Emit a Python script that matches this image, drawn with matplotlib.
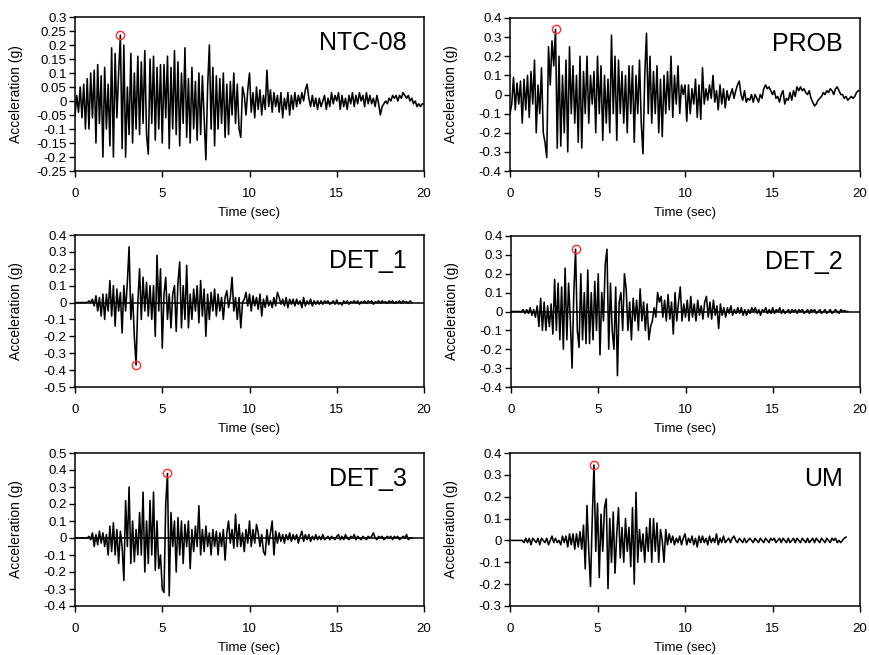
import numpy as np
import matplotlib
matplotlib.use("Agg")
import matplotlib.pyplot as plt

plt.rcParams['font.family'] = ['Liberation Sans', 'DejaVu Sans']

# -----------------------------
# Time axis (0.1 s samples)
# -----------------------------
DT = 0.1

# -----------------------------
# Accelerograms (g)
# -----------------------------
ntc08 = [
    -0.05, 0.02, -0.04, 0.05, -0.06, 0.06, -0.1, 0.08, -0.1, 0.1,
    -0.06, 0.11, -0.15, 0.13, -0.08, 0.09, -0.2, 0.12, -0.1, 0.06,
    -0.16, 0.19, -0.2, 0.17, -0.06, 0.1, 0.235, -0.17, 0.2, -0.2,
    0.05, -0.12, 0.17, -0.15, 0.1, -0.1, 0.16, -0.12, 0.14, -0.08,
    0.18, -0.12, -0.19, 0.15, -0.08, 0.16, -0.14, 0.12, -0.1, 0.13,
    -0.15, 0.13, -0.06, 0.16, -0.17, 0.12, -0.1, 0.18, -0.12, 0.14,
    -0.16, 0.1, -0.08, 0.19, -0.13, 0.08, -0.15, 0.12, -0.1, 0.07,
    -0.14, 0.1, -0.12, 0.09, -0.06, -0.21, 0.05, 0.2, -0.1, 0.12,
    -0.16, 0.09, -0.1, 0.08, -0.08, 0.1, -0.13, 0.06, -0.12, 0.07,
    -0.05, 0.1, -0.08, 0.06, -0.1, -0.13, 0.05, 0.02, -0.05, 0.04,
    0.1, -0.04, 0.03, -0.06, 0.05, -0.03, 0.04, -0.05, 0.02, -0.03,
    0.11, -0.02, 0.04, -0.04, 0.03, -0.02, 0.02, -0.04, 0.03, -0.06,
    0.01, -0.03, 0.03, -0.05, 0.02, -0.03, 0.03, -0.02, 0.02, -0.01,
    0.03, 0.0, 0.04, 0.06, 0.01, -0.02, 0.02, -0.02, 0.01, -0.03,
    0.01, -0.02, 0.0, 0.02, -0.03, 0.01, -0.02, 0.03, -0.01, 0.02,
    0.0, 0.03, -0.03, 0.02, -0.02, 0.01, -0.03, 0.02, -0.01, 0.03,
    -0.02, 0.02, -0.01, 0.03, 0.0, 0.02, -0.02, 0.03, -0.01, 0.02,
    -0.01, 0.01, -0.02, 0.02, -0.01, -0.05, -0.02, -0.01, 0.0, -0.01,
    0.01, 0.0, 0.02, 0.01, 0.02, 0.0, 0.02, 0.01, 0.03, 0.02,
    0.01, 0.02, 0.0, 0.01, -0.01, 0.0, -0.02, -0.01, -0.02, -0.01,
    -0.01,
]

prob = [
    -0.1, -0.05, 0.09, -0.08, 0.06, -0.05, 0.07, -0.15, 0.08, -0.08,
    0.1, -0.12, 0.12, -0.05, 0.18, -0.2, 0.05, -0.1, 0.14, -0.2,
    -0.25, -0.33, 0.25, 0.05, 0.28, 0.15, 0.34, -0.28, 0.2, -0.27,
    0.1, -0.2, 0.18, -0.3, 0.25, -0.1, 0.15, -0.15, 0.1, -0.25,
    0.2, -0.28, 0.12, -0.1, 0.2, -0.15, 0.1, -0.05, 0.12, -0.2,
    0.2, -0.1, 0.15, -0.24, 0.1, -0.15, 0.08, -0.2, 0.31, -0.1,
    0.2, -0.24, 0.18, -0.1, 0.12, -0.15, 0.1, -0.2, 0.15, -0.1,
    0.15, -0.25, 0.1, -0.1, 0.18, -0.15, -0.31, 0.1, 0.32, -0.1,
    0.2, -0.15, 0.12, -0.1, 0.15, -0.2, 0.08, -0.22, 0.1, -0.1,
    0.12, -0.08, 0.2, -0.12, 0.1, -0.05, 0.15, -0.1, 0.05, 0.0,
    0.05, -0.14, 0.05, -0.1, 0.03, -0.05, 0.08, -0.12, 0.05, -0.13,
    0.14, -0.05, 0.03, -0.03, 0.05, -0.02, 0.1, -0.04, 0.02, -0.08,
    0.05, -0.05, 0.03, -0.07, 0.02, -0.03, 0.0, 0.03, -0.02, 0.02,
    0.05, 0.07, 0.0, -0.03, 0.02, -0.04, -0.02, -0.03, 0.0, -0.04,
    0.0, -0.02, -0.04, 0.0, -0.02, 0.03, 0.05, 0.03, 0.04, 0.02,
    0.0, 0.02, -0.02, -0.01, -0.04, 0.0, 0.02, -0.05, -0.02, -0.03,
    0.01, -0.03, 0.02, -0.01, 0.04, 0.02, 0.04, 0.02, 0.03, 0.01,
    0.0, 0.02, -0.02, -0.04, -0.06, -0.05, -0.03, -0.02, -0.01, 0.01,
    0.0, 0.02, 0.01, 0.03, 0.02, 0.0, 0.03, 0.04, 0.02, 0.0,
    0.0, -0.02, -0.01, -0.03, -0.02, -0.01, -0.02, -0.01, 0.01, 0.02,
    0.02,
]

det1 = [
    0, 0, 0, 0, 0, 0, 0, 0, 0.01, 0.0,
    0.02, -0.02, 0.04, -0.05, 0.03, -0.08, 0.05, -0.1, 0.05, -0.05,
    0.13, -0.08, 0.1, -0.14, 0.08, -0.05, 0.06, -0.18, 0.1, -0.05,
    0.12, 0.33, -0.1, 0.05, -0.2, -0.37, 0.0, 0.2, -0.1, 0.15,
    -0.05, 0.12, -0.08, 0.1, -0.1, 0.1, -0.2, 0.28, -0.05, 0.2,
    -0.27, 0.05, 0.15, -0.1, 0.05, -0.15, 0.05, 0.1, -0.17, 0.12,
    0.24, -0.15, 0.1, -0.1, 0.22, -0.15, 0.05, -0.1, 0.08, -0.05,
    0.1, -0.12, 0.13, -0.08, 0.08, -0.2, 0.05, -0.1, 0.06, -0.05,
    0.08, -0.08, 0.05, -0.05, 0.03, -0.1, 0.03, 0.07, -0.03, 0.03,
    0.15, -0.05, 0.03, -0.1, 0.03, -0.15, 0.0, 0.02, 0.06, -0.02,
    0.05, -0.05, 0.04, -0.02, 0.03, -0.04, 0.05, -0.08, 0.02, -0.03,
    0.04, -0.02, 0.01, -0.03, 0.03, -0.02, 0.06, 0.03, -0.01, 0.02,
    -0.02, 0.03, -0.03, 0.02, -0.01, 0.02, -0.02, 0.02, -0.01, 0.01,
    -0.03, 0.03, -0.02, 0.01, -0.01, 0.02, -0.02, 0.01, -0.01, 0.01,
    -0.01, 0.01, -0.01, 0.01, 0.0, 0.01, -0.01, 0.0, 0.01, -0.01,
    0.015, -0.01, 0.0, -0.015, 0.01, -0.005, 0.01, -0.01, 0.005, 0.0,
    0.01, -0.005, 0.01, -0.01, 0.005, 0.0, 0.01, -0.005, 0.01, 0.0,
    0.01, -0.01, 0.005, 0.0, 0.01, -0.005, 0.01, 0.0, 0.005, -0.005,
    0.01, 0.0, 0.01, -0.005, 0.005, 0.0, 0.01, -0.005, 0.01, 0.0,
    0.005, -0.005, 0.01, 0.0,
]

det2 = [
    0, 0, 0, 0, 0, 0, 0, 0.01, -0.01, 0.01,
    -0.01, 0.02, -0.02, 0.01, -0.03, 0.03, -0.08, 0.07, -0.1, 0.05,
    -0.1, 0.03, -0.08, 0.04, -0.12, 0.17, -0.1, 0.15, -0.15, 0.13,
    -0.2, 0.23, -0.15, 0.15, -0.05, -0.3, 0.1, 0.33, -0.1, -0.19,
    0.2, -0.15, 0.1, -0.17, 0.22, -0.17, 0.1, -0.15, 0.16, -0.1,
    0.2, -0.23, 0.1, -0.05, 0.25, 0.33, -0.2, 0.15, -0.1, -0.2,
    0.13, -0.34, 0.05, 0.1, -0.1, 0.2, 0.12, -0.1, 0.05, -0.15,
    0.07, -0.05, 0.06, -0.1, 0.12, -0.05, 0.05, -0.1, 0.04, -0.15,
    -0.08, -0.05, 0.02, -0.03, 0.1, 0.05, 0.08, -0.03, 0.06, -0.05,
    0.09, -0.04, 0.05, -0.12, 0.1, -0.05, 0.05, 0.13, -0.05, 0.04,
    -0.03, 0.06, -0.05, 0.08, -0.03, 0.04, -0.05, 0.06, -0.02, 0.03,
    -0.04, 0.05, 0.08, -0.03, 0.05, -0.04, 0.06, -0.02, 0.03, -0.09,
    0.04, -0.02, 0.02, -0.03, 0.02, -0.01, 0.03, -0.02, 0.01, -0.01,
    0.02, -0.01, 0.02, -0.02, 0.01, -0.02, 0.01, -0.01, 0.02, 0.0,
    0.02, -0.01, 0.01, -0.02, 0.01, 0.0, 0.02, -0.01, 0.01, -0.01,
    0.02, -0.01, 0.01, 0.0, 0.02, -0.01, 0.01, -0.01, 0.0, 0.01,
    -0.01, 0.01, 0.0, 0.01, -0.01, 0.01, 0.0, 0.01, -0.01, 0.0,
    0.01, -0.01, 0.01, 0.0, 0.01, -0.01, 0.0, 0.01, -0.01, 0.0,
    0.01, -0.01, 0.0, 0.01, -0.01, 0.0, 0.01, 0.0, -0.01, 0.01,
    0.0, 0.005, 0.0, 0.0,
]

det3 = [
    0, 0, 0, 0, 0, 0, 0, 0, 0.01, -0.01,
    0.03, -0.05, 0.02, -0.04, 0.04, -0.03, 0.03, -0.05, 0.02, -0.1,
    0.07, -0.08, 0.09, -0.1, 0.05, -0.15, 0.04, -0.05, -0.25, 0.22,
    -0.05, 0.3, -0.15, 0.1, -0.14, 0.05, -0.1, 0.15, -0.1, 0.27,
    -0.2, 0.1, -0.15, 0.22, -0.1, 0.27, -0.19, 0.1, -0.18, -0.1,
    -0.3, -0.32, 0.2, 0.38, -0.34, 0.15, -0.05, 0.1, -0.2, 0.12,
    -0.1, 0.1, -0.15, 0.08, -0.05, 0.1, -0.18, 0.05, -0.08, 0.07,
    -0.05, 0.19, -0.1, 0.05, -0.08, 0.07, -0.05, 0.03, -0.1, 0.05,
    -0.05, 0.04, -0.1, 0.03, -0.05, 0.05, -0.13, 0.03, 0.1, -0.03,
    0.05, -0.06, 0.14, -0.05, 0.08, -0.05, 0.03, -0.08, 0.05, -0.03,
    0.1, -0.05, 0.05, -0.03, 0.08, 0.03, -0.05, 0.02, -0.08, -0.1,
    0.05, -0.04, 0.03, 0.1, -0.1, 0.04, -0.03, 0.03, -0.02, 0.02,
    -0.03, 0.02, -0.01, 0.03, -0.02, 0.02, -0.01, 0.02, -0.03, 0.01,
    0.04, -0.02, 0.02, -0.01, 0.02, -0.02, 0.01, -0.01, 0.02, -0.01,
    0.01, -0.01, 0.02, -0.01, 0.0, 0.01, -0.01, 0.01, 0.0, -0.01,
    0.01, 0.02, -0.01, 0.01, -0.01, 0.02, 0.0, -0.01, 0.01, 0.0,
    0.02, -0.01, 0.01, 0.0, -0.01, 0.01, 0.0, -0.01, 0.01, 0.0,
    0.01, 0.03, 0.0, -0.01, 0.01, 0.0, 0.01, -0.01, 0.0, 0.01,
    0.0, 0.01, -0.01, 0.01, 0.0, 0.01, -0.01, 0.0, 0.01, 0.0,
    0.02, -0.01, 0.0, 0.0,
]

um = [
    0, 0, 0, 0, 0, 0, 0, 0, -0.01, 0.01,
    -0.01, 0.01, -0.02, 0.01, 0.0, -0.01, 0.01, -0.02, 0.01, 0.0,
    -0.01, 0.01, -0.02, 0.0, 0.02, -0.01, 0.01, -0.01, 0.0, -0.02,
    0.02, -0.01, 0.02, -0.03, 0.03, -0.02, 0.03, -0.04, 0.03, -0.03,
    0.04, -0.04, 0.07, -0.13, 0.16, -0.05, -0.21, 0.1, 0.345, -0.05,
    0.17, -0.17, 0.12, -0.05, 0.15, 0.19, -0.22, 0.1, -0.1, 0.13,
    -0.15, 0.03, 0.15, -0.08, 0.06, -0.1, 0.1, -0.05, 0.06, -0.12,
    0.15, -0.2, 0.22, -0.1, 0.05, -0.05, 0.03, -0.1, 0.06, -0.05,
    0.1, -0.1, 0.1, -0.05, 0.08, -0.1, 0.05, 0.0, -0.1, 0.05,
    -0.02, 0.03, -0.01, 0.02, -0.02, 0.01, -0.01, 0.02, -0.02, 0.01,
    0.03, -0.02, 0.01, -0.01, 0.02, -0.02, 0.01, -0.03, 0.02, -0.01,
    0.02, -0.01, 0.01, -0.02, 0.02, -0.01, 0.01, -0.01, 0.03, -0.02,
    0.01, -0.01, 0.02, -0.01, 0.0, 0.01, -0.01, 0.01, 0.02, 0.0,
    -0.01, 0.01, 0.0, -0.01, 0.01, -0.01, 0.0, 0.01, 0.0, -0.01,
    0.01, 0.0, -0.01, 0.01, 0.0, -0.01, 0.01, 0.0, -0.01, 0.01,
    0.0, 0.01, -0.01, 0.0, 0.01, -0.01, 0.01, 0.0, -0.01, 0.01,
    -0.01, 0.0, 0.01, -0.01, 0.01, 0.0, -0.01, 0.01, 0.0, -0.01,
    0.01, -0.01, 0.0, 0.01, -0.01, 0.01, 0.0, -0.01, 0.01, 0.0,
    -0.01, 0.01, 0.0, -0.01, 0.01, 0.0, 0.01, -0.01, 0.0, -0.01,
    0.0, 0.01, 0.015,
]

names = ["NTC-08", "PROB", "DET_1", "DET_2", "DET_3", "UM"]
records = [ntc08, prob, det1, det2, det3, um]
y_limits = [(-0.25, 0.3), (-0.4, 0.4), (-0.5, 0.4), (-0.4, 0.4), (-0.4, 0.5), (-0.3, 0.4)]
y_steps = [0.05, 0.1, 0.1, 0.1, 0.1, 0.1]
zero_line = [False, False, True, True, True, False]
peak_side = ["max", "max", "min", "max", "max", "max"]

# -----------------------------
# Figure layout (pixel-matched)
# -----------------------------
fig = plt.figure(figsize=(8.69, 6.55), dpi=100)
W, H = 869, 655
boxes = [
    (75, 17, 424, 171), (510, 18, 860, 171),
    (75, 235, 424, 387), (511, 236, 860, 387),
    (75, 453, 424, 606), (510, 453, 860, 606),
]

for i, name in enumerate(names):
    x0, y0, x1, y1 = boxes[i]
    ax = fig.add_axes([x0 / W, 1 - y1 / H, (x1 - x0) / W, (y1 - y0) / H])

    acc = np.array(records[i])
    t = np.arange(len(acc)) * DT

    if zero_line[i]:
        ax.axhline(0, color="black", lw=1.1, zorder=1)
    ax.plot(t, acc, color="black", lw=1.15, zorder=2)

    # peak ground acceleration marker
    k = np.argmax(acc) if peak_side[i] == "max" else np.argmin(acc)
    ax.plot(t[k], acc[k], marker="o", ms=6, mfc="none", mec="#ff3030", mew=1.0, zorder=3)

    lo, hi = y_limits[i]
    ax.set_xlim(0, 20)
    ax.set_ylim(lo, hi)
    ax.set_xticks([0, 5, 10, 15, 20])
    yt = np.round(np.arange(lo, hi + 1e-9, y_steps[i]), 2)
    ax.set_yticks(yt)
    ax.set_yticklabels(["0" if abs(v) < 1e-9 else f"{v:g}" for v in yt])
    ax.tick_params(direction="out", length=4, width=1.0, labelsize=9.5, pad=2)
    ax.tick_params(axis="x", pad=8)
    for sp in ax.spines.values():
        sp.set_linewidth(1.1)

    ax.set_xlabel("Time (sec)", fontsize=9.5, labelpad=5)
    ax.set_ylabel("Acceleration (g)", fontsize=10)
    ax.yaxis.set_label_coords(-0.15, 0.5)
    ax.text(0.95, 0.83, name, transform=ax.transAxes, ha="right", va="center", fontsize=18)

plt.savefig("out.png", dpi=100)
